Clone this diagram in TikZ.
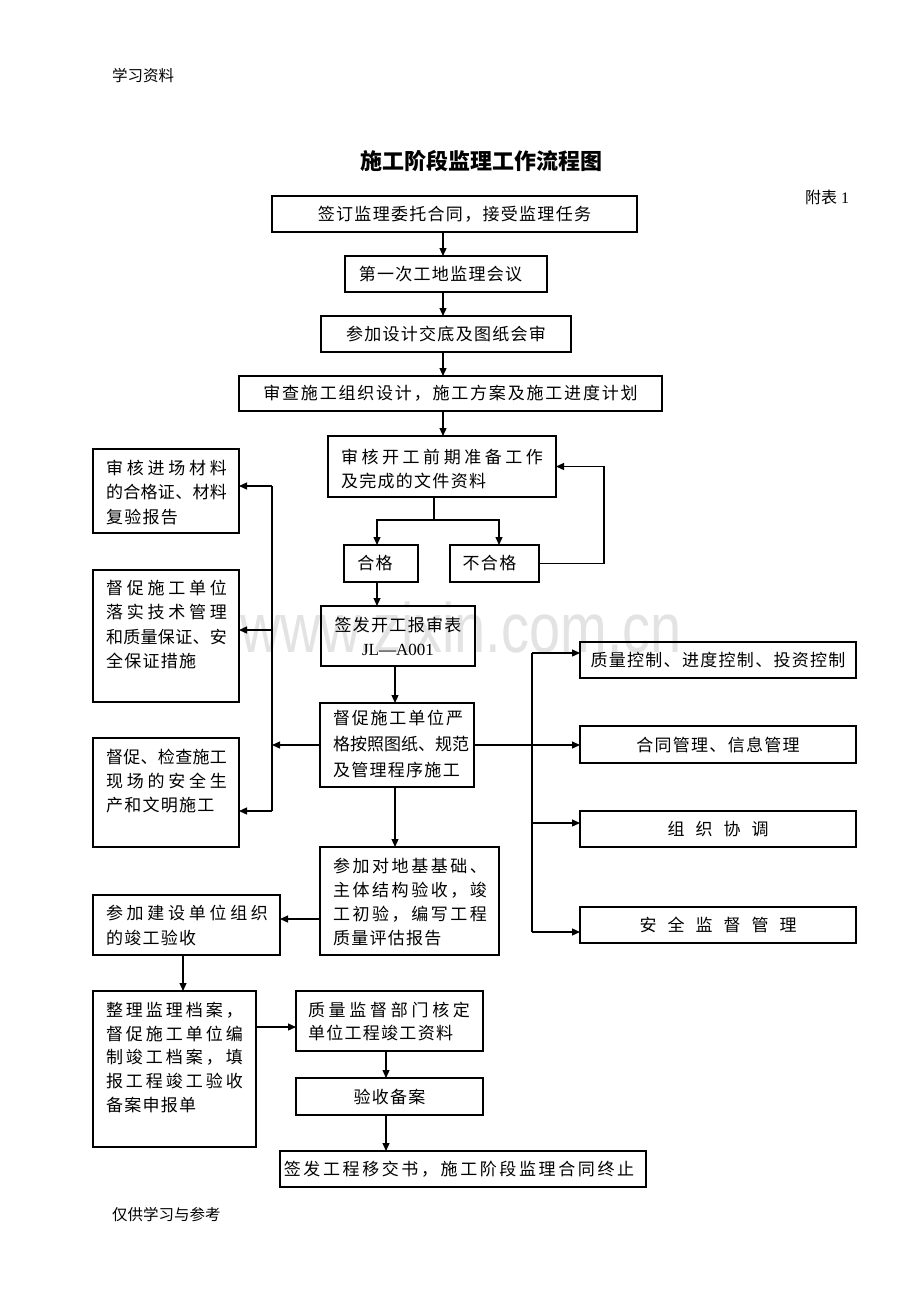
\documentclass[tikz,border=0pt]{standalone}
\usepackage{fontspec}
\setmainfont{Liberation Serif}
\newfontfamily\cjk{Noto Sans CJK SC}
\newfontfamily\wmfont{Liberation Sans}
\usetikzlibrary{arrows.meta,calc}
\makeatletter
\newcommand\chsp[2]{\def\ch@gap{#1}\ch@a#2\relax}
\def\ch@a#1{#1\ch@b}
\def\ch@b#1{\ifx\relax#1\else\kern\ch@gap\relax#1\expandafter\ch@b\fi}
\newcommand\chj[2]{\hbox to #1{\chj@a#2\relax}}
\def\chj@a#1{#1\chj@b}
\def\chj@b#1{\ifx\relax#1\else\hfil#1\expandafter\chj@b\fi}
\makeatother
\newcommand\ntx[1]{\chsp{1.3pt}{#1}}
\newcommand\tf[1]{\cjk\fontsize{17}{#1}\selectfont}
\newcommand\bx[6]{\node[box, minimum width={(#4-#2)*1pt}, minimum height={(#5-#3)*1pt}] (#1) at ({(#2+#4)/2},{(#3+#5)/2}) {#6};}
\tikzset{
  box/.style={draw, line width=1.2pt, rectangle, inner sep=0pt, outer sep=0pt, font=\tf{24}, align=center},
  txt/.style={inner sep=0pt, outer sep=0pt, align=left, anchor=north west},
  ln/.style={line width=1.2pt},
  arr/.style={line width=1.2pt, -{Triangle[length=8pt,width=7pt]}}
}
\begin{document}
\begin{tikzpicture}[x=1pt,y=-1pt]
\fill[white] (0,0) rectangle (920,1302);
\useasboundingbox (0,0) rectangle (920,1302);
% watermark
\node[text=black!11, font=\wmfont\fontsize{70}{70}\selectfont, anchor=base, inner sep=0pt] (wm) at (461,652) {\scalebox{0.8}[1]{www.zixin.com.cn}};
% header / footer / title
\node[font=\cjk\fontsize{15.5}{16}\selectfont, anchor=west, inner sep=0pt] (hdr) at (112,76) {学习资料};
\node[font=\cjk\fontsize{15.5}{16}\selectfont, anchor=west, inner sep=0pt] (ftr) at (112,1215) {仅供学习与参考};
\node[font=\cjk\bfseries\fontsize{22}{22}\selectfont, inner sep=0pt] (title) at (481,161) {施工阶段监理工作流程图};
\node[font=\fontsize{16}{16}\selectfont, anchor=west, inner sep=0pt] (fb1) at (805,197) {{\cjk 附表} 1};
% main column
\bx{b1}{272}{196}{637}{232}{\ntx{签订监理委托合同，接受监理任务}}
\bx{b2}{345}{256}{547}{292}{\ntx{第一次工地监理会议}\hspace{11pt}}
\bx{b3}{321}{316}{571}{352}{\ntx{参加设计交底及图纸会审}}
\bx{b4}{239}{376}{662}{411}{\chsp{1.8pt}{审查施工组织设计，施工方案及施工进度计划}}
\bx{b5}{328}{436}{556}{497}{}
\node[txt, font=\tf{24}] (t5) at (341,449) {\chj{202pt}{审核开工前期准备工作}\\\ntx{及完成的文件资料}};
\bx{hg}{344}{545}{418}{582}{\ntx{合格}\hspace{12pt}}
\bx{bhg}{450}{545}{539}{582}{\ntx{不合格}\hspace{10pt}}
\bx{qf}{321}{606}{475}{666}{\ntx{签发开工报审表}\\{\rmfamily JL—A001}}
\bx{dc}{320}{703}{474}{787}{}
\node[txt, font=\tf{26}] (tdc) at (333,710) {\chj{130pt}{督促施工单位严}\\\chj{130pt}{格按照图纸、规范}\\\ntx{及管理程序施工}};
\bx{cj}{320}{847}{499}{955}{}
\node[txt, font=\tf{24}] (tcj) at (333,858) {\chj{154pt}{参加对地基基础、}\\\chj{154pt}{主体结构验收，竣}\\\chj{154pt}{工初验，编写工程}\\\ntx{质量评估报告}};
% right column
\bx{R1}{580}{642}{856}{678}{\ntx{质量控制、进度控制、投资控制}}
\bx{R2}{580}{726}{856}{763}{\ntx{合同管理、信息管理}}
\bx{R3}{580}{811}{856}{847}{\chsp{11pt}{组织协调}}
\bx{R4}{580}{907}{856}{943}{\chsp{11pt}{安全监督管理}}
% left column
\bx{L1}{93}{449}{239}{533}{}
\node[txt, font=\tf{24.5}] (tL1) at (106,460) {\chj{121pt}{审核进场材料}\\\chj{121pt}{的合格证、材料}\\\ntx{复验报告}};
\bx{L2}{93}{570}{239}{702}{}
\node[txt, font=\tf{24.3}] (tL2) at (106,580) {\chj{121pt}{督促施工单位}\\\chj{121pt}{落实技术管理}\\\chj{121pt}{和质量保证、安}\\\ntx{全保证措施}};
\bx{L3}{93}{738}{239}{847}{}
\node[txt, font=\tf{24}] (tL3) at (106,749) {\chj{121pt}{督促、检查施工}\\\chj{121pt}{现场的安全生}\\\ntx{产和文明施工}};
% bottom
\bx{jg}{93}{895}{280}{955}{}
\node[txt, font=\tf{25}] (tjg) at (106,905) {\chj{162pt}{参加建设单位组织}\\\ntx{的竣工验收}};
\bx{zl}{93}{991}{256}{1147}{}
\node[txt, font=\tf{23.7}] (tzl) at (106,1002) {\chj{137pt}{整理监理档案，}\\\chj{137pt}{督促施工单位编}\\\chj{137pt}{制竣工档案，填}\\\chj{137pt}{报工程竣工验收}\\\ntx{备案申报单}};
\bx{zj}{296}{991}{483}{1051}{}
\node[txt, font=\tf{23}] (tzj) at (308,1002) {\chj{162pt}{质量监督部门核定}\\\ntx{单位工程竣工资料}};
\bx{ys}{296}{1078}{483}{1115}{\ntx{验收备案}}
\bx{qg}{280}{1151}{646}{1187}{\chsp{2.6pt}{签发工程移交书，施工阶段监理合同终止}\hspace{8pt}}
% connectors
\coordinate (ax) at (443,0);
\draw[arr] (b1.south -| ax) -- (b2.north -| ax);
\draw[arr] (b2.south -| ax) -- (b3.north -| ax);
\draw[arr] (b3.south -| ax) -- (b4.north -| ax);
\draw[arr] (b4.south -| ax) -- (b5.north -| ax);
\coordinate (sp) at (434,520);
\coordinate (hgx) at (377,0);
\coordinate (bhgx) at (499,0);
\coordinate (fbx) at (604,0);
\draw[ln] (b5.south -| sp) -- (sp);
\draw[arr] (sp) -| (hg.north -| hgx);
\draw[arr] (sp) -| (bhg.north -| bhgx);
\draw[arr] (bhg.east) -- (bhg.east -| fbx) |- (b5.east);
\draw[arr] (hg.south -| hgx) -- (qf.north -| hgx);
\coordinate (cx) at (395,0);
\draw[arr] (qf.south -| cx) -- (dc.north -| cx);
\draw[arr] (dc.south -| cx) -- (cj.north -| cx);
\coordinate (lb1) at (272,486);
\coordinate (lb2) at (272,630);
\coordinate (lb3) at (272,811);
\draw[ln] (lb1) -- (lb3);
\draw[arr] (lb1) -- (lb1 -| L1.east);
\draw[arr] (lb2) -- (lb2 -| L2.east);
\draw[arr] (lb3) -- (lb3 -| L3.east);
\draw[arr] (dc.west) -- (dc.west -| lb1);
\coordinate (rb1) at (532,653);
\coordinate (rb3) at (532,823);
\coordinate (rb4) at (532,932);
\draw[ln] (rb1) -- (rb4);
\draw[arr] (rb1) -- (rb1 -| R1.west);
\draw[arr] (rb3) -- (rb3 -| R3.west);
\draw[arr] (rb4) -- (rb4 -| R4.west);
\draw[arr] (dc.east) -- (dc.east -| R2.west);
\coordinate (jy) at (0,919);
\draw[arr] (cj.west |- jy) -- (jg.east |- jy);
\coordinate (jx) at (183,0);
\draw[arr] (jg.south -| jx) -- (zl.north -| jx);
\coordinate (zy) at (0,1027);
\draw[arr] (zl.east |- zy) -- (zj.west |- zy);
\coordinate (ex) at (386,0);
\draw[arr] (zj.south -| ex) -- (ys.north -| ex);
\draw[arr] (ys.south -| ex) -- (qg.north -| ex);
\end{tikzpicture}
\end{document}
